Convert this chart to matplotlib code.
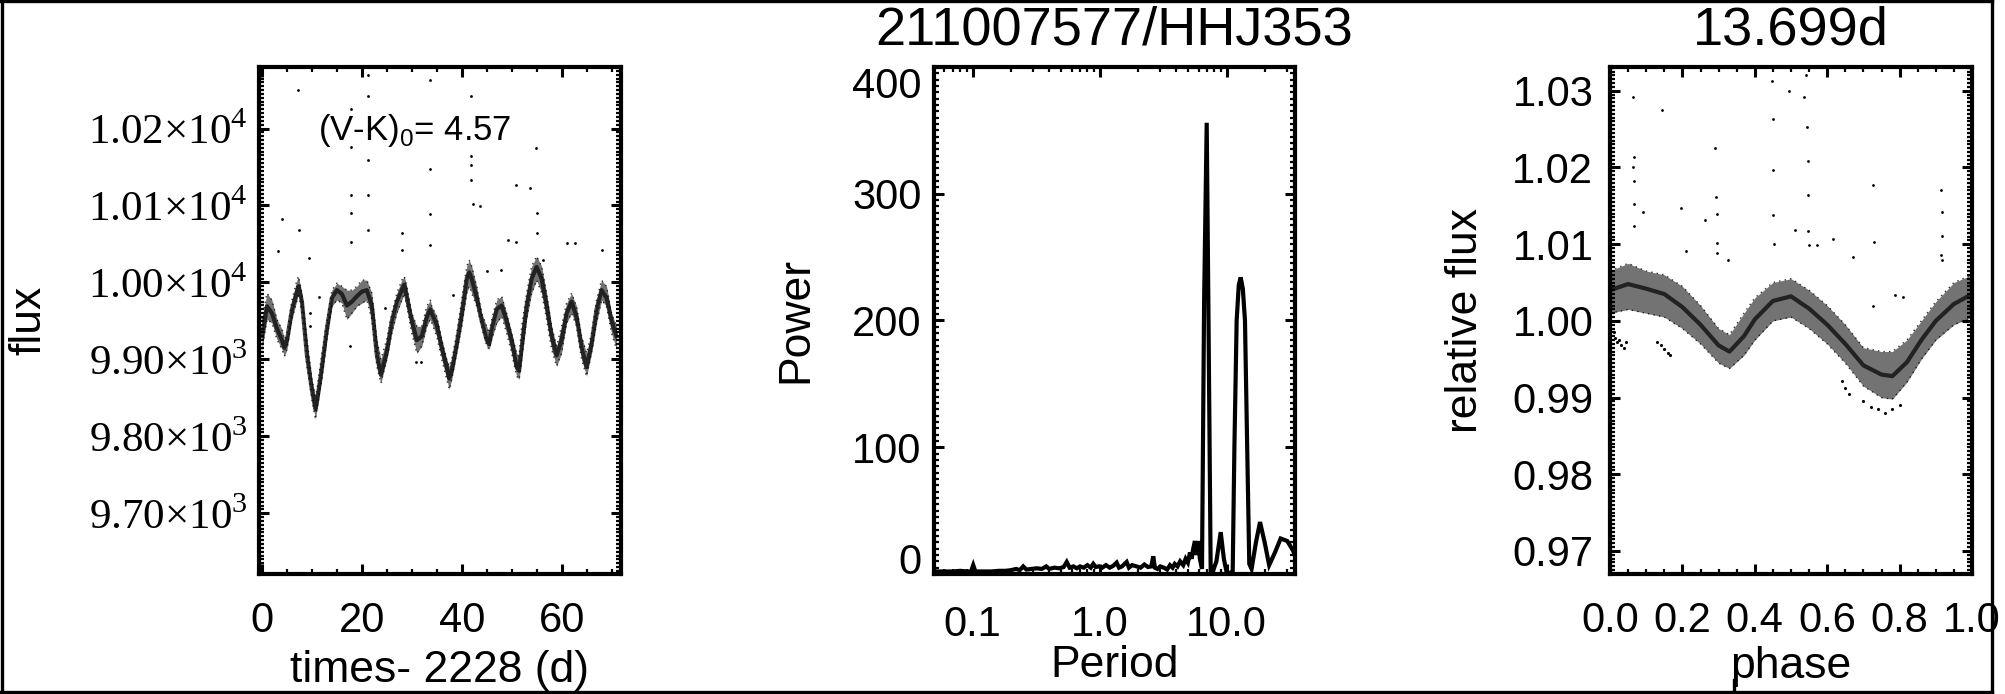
import matplotlib
matplotlib.use("Agg")
import matplotlib.pyplot as plt
from matplotlib.ticker import MultipleLocator, FixedLocator, LogLocator, NullFormatter
from matplotlib.lines import Line2D

plt.rcParams['font.family'] = ['Liberation Sans', 'DejaVu Sans']
plt.rcParams['mathtext.fontset'] = 'custom'
plt.rcParams['mathtext.rm'] = 'Liberation Serif'
plt.rcParams['mathtext.sf'] = 'Liberation Sans'

# ---------------- data ----------------
# Panel 1: light curve band (time - 2228 d, flux)
lc_time = [0, 1, 2, 3, 4, 4.5, 5, 6, 7, 7.3, 8, 9, 10, 10.7, 11, 12, 13, 14, 15, 16,
           17, 18, 19, 20, 21, 22, 23, 23.8, 25, 26, 27, 28, 28.5, 29, 30, 31, 32, 33, 33.7, 34,
           35, 36, 37, 37.5, 38, 39, 40, 41, 41.5, 42, 43, 44, 45, 45.5, 46, 47, 48, 49, 50, 51,
           51.5, 52, 53, 54, 55, 56, 57, 58, 59, 60, 61, 62, 63, 64, 65, 66, 67, 68, 69, 70, 71]
lc_high = [9952, 9986, 9977, 9952, 9939, 9926, 9934, 9977, 10003, 10008,
           9986, 9926, 9874, 9852, 9861, 9908, 9952, 9990, 9999, 9995,
           9990, 9990, 9995, 10003, 10003, 9986, 9926, 9900, 9926, 9960,
           9986, 10003, 10008, 9995, 9960, 9943, 9943, 9969, 9977, 9969,
           9956, 9926, 9900, 9891, 9900, 9934, 9977, 10021, 10029, 10021,
           9995, 9960, 9943, 9934, 9952, 9977, 9982, 9960, 9934, 9908,
           9904, 9943, 9986, 10021, 10034, 10021, 9986, 9943, 9917, 9943,
           9973, 9986, 9969, 9930, 9908, 9934, 9977, 10003, 9995, 9960, 9943]
lc_low = [9913, 9952, 9947, 9926, 9913, 9904, 9913, 9952, 9977, 9986,
          9960, 9891, 9848, 9822, 9835, 9874, 9926, 9969, 9977, 9973,
          9952, 9960, 9969, 9973, 9977, 9952, 9891, 9869, 9900, 9934,
          9960, 9977, 9986, 9969, 9934, 9908, 9917, 9943, 9952, 9947,
          9930, 9900, 9874, 9861, 9874, 9908, 9943, 9986, 9995, 9986,
          9969, 9943, 9917, 9913, 9926, 9947, 9956, 9934, 9908, 9878,
          9874, 9900, 9952, 9986, 10003, 9986, 9952, 9913, 9891, 9908,
          9947, 9960, 9943, 9900, 9878, 9908, 9947, 9977, 9969, 9934, 9913]
lc_mid = [9930, 9969, 9960, 9940, 9925, 9915, 9925, 9965, 9988, 9995,
          9975, 9905, 9860, 9835, 9845, 9890, 9940, 9980, 9990, 9985,
          9970, 9975, 9982, 9988, 9990, 9970, 9905, 9880, 9910, 9950,
          9975, 9990, 9997, 9980, 9950, 9925, 9930, 9955, 9965, 9960,
          9945, 9915, 9890, 9875, 9885, 9920, 9960, 10005, 10013, 10005,
          9980, 9950, 9925, 9920, 9940, 9965, 9970, 9950, 9925, 9890,
          9885, 9915, 9970, 10005, 10020, 10005, 9970, 9930, 9905, 9925,
          9960, 9975, 9955, 9915, 9890, 9920, 9965, 9990, 9980, 9950, 9930]
# isolated points (flares / outliers)
out_time = [7.21, 21.24, 21.24, 21.24, 21.24, 21.24, 17.90, 17.90, 17.90, 17.90, 17.90,
            33.60, 33.60, 33.60, 33.60, 41.95, 41.95, 41.95, 41.95, 42.28, 43.62,
            50.97, 49.30, 50.97, 54.84, 53.64, 54.98, 54.98, 4.01, 3.21, 7.41, 9.42,
            11.36, 9.55, 9.55, 17.57, 24.58, 28.12, 28.12, 30.93, 31.93, 38.28, 45.16,
            60.99, 62.66, 68.00, 56.31, 47.96]
out_flux = [10250, 10270, 10242, 10159, 10114, 10068, 10225, 10176, 10113, 10090, 10052,
            10263, 10147, 10089, 10049, 10242, 10164, 10153, 10133, 10102, 10099,
            10127, 10055, 10053, 10175, 10123, 10090, 10064, 10082, 10041, 10068, 10032,
            9981, 9960, 9943, 9917, 9967, 10064, 10042, 9897, 9897, 9984, 10015,
            10051, 10051, 10042, 10029, 10016]
lc_yticks = [9700, 9800, 9900, 10000, 10100, 10200]
lc_yticklabels = [r'9.70×10$^{\mathrm{3}}$', r'9.80×10$^{\mathrm{3}}$', r'9.90×10$^{\mathrm{3}}$',
                  r'1.00×10$^{\mathrm{4}}$', r'1.01×10$^{\mathrm{4}}$', r'1.02×10$^{\mathrm{4}}$']
lc_xticks = [0, 20, 40, 60]

# Panel 2: periodogram
period_days = [0.050, 0.060, 0.070, 0.080, 0.090, 0.097, 0.101, 0.105, 0.12, 0.14,
               0.16, 0.18, 0.20, 0.22, 0.235, 0.25, 0.265, 0.29, 0.32, 0.35,
               0.38, 0.40, 0.44, 0.48, 0.52, 0.55, 0.58, 0.62, 0.66, 0.70,
               0.75, 0.80, 0.85, 0.89, 0.93, 0.98, 1.05, 1.12, 1.20, 1.28,
               1.36, 1.42, 1.50, 1.63, 1.70, 1.80, 1.95, 2.10, 2.25, 2.40,
               2.55, 2.64, 2.72, 2.85, 3.00, 3.20, 3.40, 3.58, 3.75, 3.90,
               4.10, 4.30, 4.55, 4.75, 4.95, 5.14, 5.30, 5.45, 5.62, 5.80,
               5.97, 6.15, 6.39, 6.64, 6.96, 7.17, 7.48, 7.84, 8.30, 8.97,
               9.50, 10.0, 10.6, 11.15, 11.5, 11.98, 12.45, 12.89, 13.40, 13.93,
               14.50, 15.06, 15.7, 17.0, 18.3, 19.9, 21.6, 24.0, 26.6, 30.0,
               33.1, 34.5]
power = [2, 2, 2, 2.5, 2, 2, 7, 2, 2, 2,
         2.5, 2.5, 3, 4, 3, 6, 3.5, 4, 4.5, 4,
         6, 4, 5, 4.5, 5.5, 9.5, 5, 6, 4.5, 6,
         5, 7, 5, 8, 5.5, 6, 5, 7, 5, 6.5,
         9, 5, 6, 9.5, 5, 7, 6, 5, 7.5, 5.5,
         6, 14, 5, 4, 6, 5, 3.5, 7, 5, 8,
         6, 10, 7, 12, 9, 17, 12, 20, 26, 15,
         26, 12, 4, 215, 356, 215, 3, 3, 10, 33,
         12, 1, 1, 2, 100, 200, 228, 234, 225, 200,
         100, 8, 4, 25, 41, 25, 7, 17, 28, 26,
         19, 15]
pg_xticks = [0.1, 1.0, 10.0]
pg_xticklabels = ['0.1', '1.0', '10.0']
pg_yticks = [0, 100, 200, 300, 400]

# Panel 3: phased light curve (P = 13.699 d)
ph_grid = [0.00, 0.05, 0.10, 0.15, 0.20, 0.25, 0.30, 0.33, 0.37, 0.40, 0.45, 0.50,
           0.55, 0.60, 0.65, 0.70, 0.75, 0.78, 0.82, 0.86, 0.90, 0.95, 1.00]
ph_low = [1.0010, 1.0015, 1.0010, 1.0005, 0.9990, 0.9970, 0.9945, 0.9938, 0.9955, 0.9975, 1.0000, 1.0005,
          0.9990, 0.9970, 0.9945, 0.9915, 0.9900, 0.9898, 0.9920, 0.9950, 0.9975, 0.9995, 1.0005]
ph_high = [1.0065, 1.0075, 1.0065, 1.0060, 1.0045, 1.0020, 0.9990, 0.9982, 1.0010, 1.0030, 1.0050, 1.0055,
           1.0040, 1.0020, 0.9995, 0.9965, 0.9960, 0.9960, 0.9975, 1.0000, 1.0025, 1.0050, 1.0060]
ph_mid = [1.0040, 1.0048, 1.0042, 1.0035, 1.0018, 0.9995, 0.9968, 0.9960, 0.9980, 1.0002, 1.0026, 1.0032,
          1.0016, 0.9995, 0.9970, 0.9942, 0.9930, 0.9928, 0.9946, 0.9975, 1.0000, 1.0022, 1.0035]
ph_track = [0.010, 0.015, 0.020, 0.025, 0.030, 0.040, 0.045, 0.13, 0.14, 0.15, 0.16, 0.165,
            0.64, 0.65, 0.66, 0.70, 0.72, 0.74, 0.76, 0.78, 0.80]
rf_track = [0.9985, 0.9978, 0.9972, 0.9975, 0.9968, 0.9965, 0.9972, 0.9972, 0.9968, 0.9963, 0.9958, 0.9955,
            0.9922, 0.9912, 0.9905, 0.9895, 0.9888, 0.9885, 0.9880, 0.9885, 0.9890]
ph_out = [0.0645, 0.0664, 0.0645, 0.0664, 0.0673, 0.0673, 0.0922, 0.1429, 0.1972, 0.2101, 0.2636,
          0.2912, 0.2931, 0.2968, 0.2968, 0.2968, 0.3253, 0.4488, 0.4498, 0.4516, 0.4516, 0.4535,
          0.4931, 0.5115, 0.5364, 0.5438, 0.5456, 0.5456, 0.5475, 0.5484, 0.5714, 0.6147, 0.6719,
          0.7263, 0.7281, 0.7253, 0.7880, 0.8092, 0.9152, 0.9171, 0.9171, 0.9143, 0.9171, 0.542]
rf_out = [1.0292, 1.0214, 1.0201, 1.0183, 1.0152, 1.0124, 1.0142, 1.0275, 1.0147, 1.0091, 1.0132,
          1.0226, 1.0162, 1.0139, 1.0102, 1.0088, 1.0079, 1.0313, 1.0263, 1.0197, 1.0138, 1.0100,
          1.0300, 1.0118, 1.0292, 1.0253, 1.0208, 1.0164, 1.0117, 1.0099, 1.0099, 1.0107, 1.0083,
          1.0177, 1.0103, 1.0020, 1.0034, 1.0031, 1.0171, 1.0142, 1.0111, 1.0086, 1.0079, 1.0320]
ph_xticks = [0.0, 0.2, 0.4, 0.6, 0.8, 1.0]
ph_xticklabels = ['0.0', '0.2', '0.4', '0.6', '0.8', '1.0']
ph_yticks = [0.97, 0.98, 0.99, 1.00, 1.01, 1.02, 1.03]
ph_yticklabels = ['0.97', '0.98', '0.99', '1.00', '1.01', '1.02', '1.03']

# ---------------- figure ----------------
W, H = 2005, 694
fig = plt.figure(figsize=(W / 100, H / 100), dpi=100)


def px_axes(l, t, r, b):
    return fig.add_axes([l / W, 1 - b / H, (r - l) / W, (b - t) / H])


ax1 = px_axes(259, 67, 621, 574)
ax2 = px_axes(934, 67, 1295, 574)
ax3 = px_axes(1610, 67, 1972, 574)

TICK_FS = 30
LABEL_FS = 32


def style(ax, ypad):
    for s in ax.spines.values():
        s.set_linewidth(3.0)
        s.set_zorder(5)
    ax.tick_params(which='both', direction='in', top=True, right=True, labelsize=TICK_FS)
    ax.tick_params(which='major', length=7, width=2.2)
    ax.tick_params(which='minor', length=3.5, width=1.6)
    ax.tick_params(axis='x', which='both', pad=19.5)
    ax.tick_params(axis='y', which='both', pad=ypad)


# Panel 1
ax1.fill_between(lc_time, lc_low, lc_high, color='black', alpha=0.55, lw=0)
ax1.plot(lc_time, lc_mid, color='black', lw=3.0, alpha=0.7)
ax1.plot(lc_time, lc_high, color='black', lw=1.0, ls=(0, (1, 3)), alpha=0.8)
ax1.plot(lc_time, lc_low, color='black', lw=1.0, ls=(0, (1, 3)), alpha=0.8)
ax1.scatter(out_time, out_flux, s=4, c='black', lw=0)
ax1.set_xlim(-0.6, 71.9)
ax1.set_ylim(9621, 10280)
style(ax1, 8)
ax1.set_xticks(lc_xticks)
ax1.set_xticklabels([str(v) for v in lc_xticks])
ax1.xaxis.set_minor_locator(MultipleLocator(5))
ax1.set_yticks(lc_yticks)
ax1.set_yticklabels(lc_yticklabels, fontfamily='Liberation Serif', fontsize=31)
ax1.yaxis.set_minor_locator(MultipleLocator(5))
ax1.text(0.163, 0.874, r'(V-K)$_{\mathsf{0}}$= 4.57', transform=ax1.transAxes,
         fontsize=25, ha='left', va='center')
ax1.set_xlabel('times- 2228 (d)', fontsize=LABEL_FS)
ax1.xaxis.set_label_coords(0.5, -0.150)
ax1.set_ylabel('flux', fontsize=LABEL_FS, va='center')
ax1.yaxis.set_label_coords(-0.635, 0.5)

# Panel 2
ax2.plot(period_days, power, color='black', lw=3.0, solid_joinstyle='miter')
ax2.set_xscale('log')
ax2.set_xlim(0.0496, 34.5)
ax2.set_ylim(0, 400)
style(ax2, 9)
ax2.tick_params(axis='x', which='both', pad=22)
ax2.xaxis.set_major_locator(FixedLocator(pg_xticks))
ax2.set_xticklabels(pg_xticklabels)
ax2.xaxis.set_minor_locator(LogLocator(base=10, subs=[2, 3, 4, 5, 6, 7, 8, 9]))
ax2.xaxis.set_minor_formatter(NullFormatter())
ax2.set_yticks(pg_yticks)
ax2.set_yticklabels([str(v) for v in pg_yticks])
ax2.yaxis.set_minor_locator(MultipleLocator(5))
yt = ax2.yaxis.get_major_ticks()
yt[0].label1.set_va('baseline')
yt[-1].label1.set_va('top')
ax2.set_xlabel('Period', fontsize=LABEL_FS)
ax2.xaxis.set_label_coords(0.5, -0.140)
ax2.set_ylabel('Power', fontsize=LABEL_FS, va='center')
ax2.yaxis.set_label_coords(-0.382, 0.5)
ax2.set_title('211007577/HHJ353', fontsize=39, pad=16)

# Panel 3
ax3.fill_between(ph_grid, ph_low, ph_high, color='black', alpha=0.55, lw=0)
ax3.plot(ph_grid, ph_mid, color='black', lw=3.0, alpha=0.7)
ax3.plot(ph_grid, ph_high, color='black', lw=1.0, ls=(0, (1, 3)), alpha=0.8)
ax3.plot(ph_grid, ph_low, color='black', lw=1.0, ls=(0, (1, 3)), alpha=0.8)
ax3.scatter(ph_track, rf_track, s=5, c='black', lw=0)
ax3.scatter(ph_out, rf_out, s=4, c='black', lw=0)
ax3.set_xlim(0, 1)
ax3.set_ylim(0.967, 1.0331)
style(ax3, 12)
ax3.set_xticks(ph_xticks)
ax3.set_xticklabels(ph_xticklabels)
ax3.xaxis.set_minor_locator(MultipleLocator(0.05))
ax3.set_yticks(ph_yticks)
ax3.set_yticklabels(ph_yticklabels)
ax3.yaxis.set_minor_locator(MultipleLocator(0.0005))
ax3.set_xlabel('phase', fontsize=LABEL_FS)
ax3.xaxis.set_label_coords(0.5, -0.142)
ax3.set_ylabel('relative flux', fontsize=LABEL_FS, va='center')
ax3.yaxis.set_label_coords(-0.398, 0.5)
ax3.set_title('13.699d', fontsize=39, pad=16)

# outer frame of the page
fr = dict(color='black', lw=2.4, transform=fig.transFigure, zorder=-1)
fig.add_artist(Line2D([1.6 / W, 1.6 / W], [0, 1], **fr))
fig.add_artist(Line2D([0, 1992.3 / W], [1 - 0.9 / H, 1 - 0.9 / H], **fr))
fig.add_artist(Line2D([0, 1992.3 / W], [1 - 692.3 / H, 1 - 692.3 / H], **fr))
fig.add_artist(Line2D([1992.3 / W, 1992.3 / W], [0, 1], **fr))
fig.add_artist(Line2D([1734.3 / W, 1734.3 / W], [0, 1 - 680 / H], **fr))

fig.savefig('out.png', dpi=100)
